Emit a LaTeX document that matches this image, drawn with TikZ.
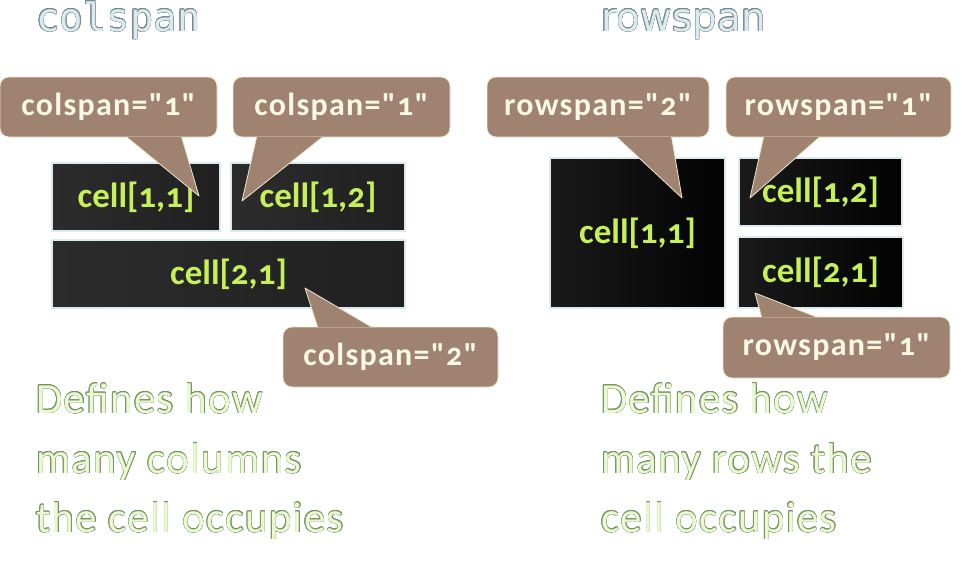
\documentclass[tikz,border=0pt]{standalone}
\usepackage{fontspec}
\setmainfont{Carlito}
\newfontfamily\calloutfont{Carlito}[Numbers=OldStyle,LetterSpace=4]
\newfontfamily\cellfont{Carlito}[Numbers=OldStyle]
\newfontfamily\descfont{Carlito}[LetterSpace=3]
\newfontfamily\monotitle{DejaVu Sans Mono}
\newfontfamily\sanstitle{DejaVu Sans}
\usepackage{contour}
\contourlength{0.35pt}
\contournumber{16}
\usetikzlibrary{calc}
\definecolor{calloutBrown}{RGB}{159,131,112}
\definecolor{calloutEdge}{RGB}{236,232,205}
\definecolor{calloutText}{RGB}{248,248,228}
\definecolor{cellText}{RGB}{198,240,88}
\definecolor{cellEdge}{RGB}{218,235,240}
\definecolor{cellGreyA}{RGB}{44,44,44}
\definecolor{cellGreyB}{RGB}{32,32,32}
\definecolor{cellBlackA}{RGB}{26,26,26}
\definecolor{cellBlackB}{RGB}{2,2,2}
\definecolor{titleFill}{RGB}{218,235,240}
\definecolor{titleEdge}{RGB}{120,135,142}
\definecolor{descFill}{RGB}{233,250,210}
\definecolor{descEdge}{RGB}{125,145,105}
\begin{document}
\begin{tikzpicture}[x=1pt,y=-1pt,
  cellbox/.style={draw=cellEdge,line width=1.5pt,inner sep=0pt,text=cellText,
    font=\cellfont\bfseries\fontsize{35}{40}\selectfont},
  leftcell/.style={cellbox,left color=cellGreyA,right color=cellGreyB},
  rightcell/.style={cellbox,left color=cellBlackA,right color=cellBlackB},
  callout/.style={fill=calloutBrown,draw=calloutEdge,line width=0.8pt,rounded corners=9pt,
    inner sep=0pt,text=calloutText,font=\calloutfont\bfseries\fontsize{32}{34}\selectfont},
  tail/.style={fill=calloutBrown,draw=calloutEdge,line width=0.8pt,line join=round},
  desc/.style={anchor=base west,inner sep=0pt,text=descFill,font=\descfont\fontsize{43}{50}\selectfont},
  title/.style={anchor=base west,inner sep=0pt,text=titleFill}
]
\useasboundingbox (0,0) rectangle (975,568);

% titles
\node[title,font=\monotitle\fontsize{39}{40}\selectfont] (tcol) at (36,31) {\contour{titleEdge}{colspan}};
\node[title,font=\sanstitle\fontsize{39}{40}\selectfont] (trow) at (601,31) {\contour{titleEdge}{rowspan}};

% left table
\node[leftcell,minimum width=168pt,minimum height=68pt] (a11) at (136,197) {cell[1,1]};
\node[leftcell,minimum width=174pt,minimum height=68pt] (a12) at (318,197) {cell[1,2]};
\node[leftcell,minimum width=353pt,minimum height=68pt] (a21) at (228.5,274) {cell[2,1]};

% right table
\node[rightcell,minimum width=175pt,minimum height=150pt] (b11) at (637.5,233) {cell[1,1]};
\node[rightcell,minimum width=163pt,minimum height=68pt] (b12) at (820.5,192) {cell[1,2]};
\node[rightcell,minimum width=165pt,minimum height=71pt] (b21) at (820.5,272.5) {cell[2,1]};

% tip coordinates
\coordinate (pL1) at (199,196);
\coordinate (pL2) at (242,201);
\coordinate (pL3) at (305,288);
\coordinate (pR1) at (682,198);
\coordinate (pR2) at (750,198);
\coordinate (pR3) at (755,293);

% callouts
\node[callout,minimum width=217pt,minimum height=60pt] (L1) at (108.5,107) {colspan="1"};
\draw[tail] ($(L1.south west)+(127,-0.4)$) -- (pL1) -- ($(L1.south west)+(182,-0.4)$);
\node[callout,minimum width=217pt,minimum height=60pt] (L2) at (341.5,107) {colspan="1"};
\draw[tail] ($(L2.south west)+(24,-0.4)$) -- (pL2) -- ($(L2.south west)+(90,-0.4)$);
\node[callout,minimum width=215pt,minimum height=60pt] (L3) at (390.5,357) {colspan="2"};
\draw[tail] ($(L3.north west)+(35,0.4)$) -- (pL3) -- ($(L3.north west)+(89,0.4)$);

\node[callout,minimum width=222pt,minimum height=60pt] (R1) at (598,107) {rowspan="2"};
\draw[tail] ($(R1.south west)+(130,-0.4)$) -- (pR1) -- ($(R1.south west)+(185,-0.4)$);
\node[callout,minimum width=225pt,minimum height=60pt] (R2) at (838.5,107) {rowspan="1"};
\draw[tail] ($(R2.south west)+(38,-0.4)$) -- (pR2) -- ($(R2.south west)+(94,-0.4)$);
\node[callout,minimum width=227pt,minimum height=61pt] (R3) at (836.5,347.5) {rowspan="1"};
\draw[tail] ($(R3.north west)+(39,0.4)$) -- (pR3) -- ($(R3.north west)+(94,0.4)$);

% descriptions
\node[desc] (dl1) at (36,413) {\contour{descEdge}{Defines how}};
\node[desc] (dl2) at (36,473) {\contour{descEdge}{many columns}};
\node[desc] (dl3) at (36,532) {\contour{descEdge}{the cell occupies}};
\node[desc] (dr1) at (601,413) {\contour{descEdge}{Defines how}};
\node[desc] (dr2) at (601,473) {\contour{descEdge}{many rows the}};
\node[desc] (dr3) at (601,532) {\contour{descEdge}{cell occupies}};
\end{tikzpicture}
\end{document}
